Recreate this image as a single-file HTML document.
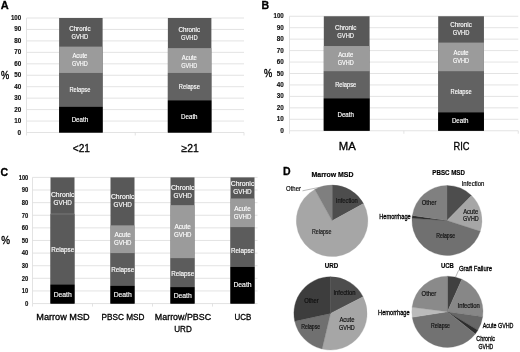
<!DOCTYPE html>
<html><head><meta charset="utf-8"><title>Figure</title>
<style>
html,body{margin:0;padding:0;background:#fff;}
body{width:520px;height:352px;overflow:hidden;}
svg{display:block;font-family:'Liberation Sans', sans-serif;filter:blur(0.5px);}
</style></head><body>
<svg width="520" height="352" viewBox="0 0 520 352">
<rect width="520" height="352" fill="#fff"/>
<text x="0.8" y="9" font-size="11" fill="#000" font-weight="bold" text-anchor="start" stroke="#000" stroke-width="0.3">A</text>
<line x1="26.5" y1="132.50" x2="244" y2="132.50" stroke="#dcdcdc" stroke-width="0.8"/>
<text x="21.2" y="134.5" font-size="6.8" fill="#111" font-weight="bold" text-anchor="end" textLength="3.6" lengthAdjust="spacingAndGlyphs" stroke="#111" stroke-width="0.15">0</text>
<line x1="26.5" y1="121.05" x2="244" y2="121.05" stroke="#dcdcdc" stroke-width="0.8"/>
<text x="21.2" y="123.05" font-size="6.8" fill="#111" font-weight="bold" text-anchor="end" textLength="7.0" lengthAdjust="spacingAndGlyphs" stroke="#111" stroke-width="0.15">10</text>
<line x1="26.5" y1="109.60" x2="244" y2="109.60" stroke="#dcdcdc" stroke-width="0.8"/>
<text x="21.2" y="111.6" font-size="6.8" fill="#111" font-weight="bold" text-anchor="end" textLength="7.0" lengthAdjust="spacingAndGlyphs" stroke="#111" stroke-width="0.15">20</text>
<line x1="26.5" y1="98.15" x2="244" y2="98.15" stroke="#dcdcdc" stroke-width="0.8"/>
<text x="21.2" y="100.15" font-size="6.8" fill="#111" font-weight="bold" text-anchor="end" textLength="7.0" lengthAdjust="spacingAndGlyphs" stroke="#111" stroke-width="0.15">30</text>
<line x1="26.5" y1="86.70" x2="244" y2="86.70" stroke="#dcdcdc" stroke-width="0.8"/>
<text x="21.2" y="88.7" font-size="6.8" fill="#111" font-weight="bold" text-anchor="end" textLength="7.0" lengthAdjust="spacingAndGlyphs" stroke="#111" stroke-width="0.15">40</text>
<line x1="26.5" y1="75.25" x2="244" y2="75.25" stroke="#dcdcdc" stroke-width="0.8"/>
<text x="21.2" y="77.25" font-size="6.8" fill="#111" font-weight="bold" text-anchor="end" textLength="7.0" lengthAdjust="spacingAndGlyphs" stroke="#111" stroke-width="0.15">50</text>
<line x1="26.5" y1="63.80" x2="244" y2="63.80" stroke="#dcdcdc" stroke-width="0.8"/>
<text x="21.2" y="65.8" font-size="6.8" fill="#111" font-weight="bold" text-anchor="end" textLength="7.0" lengthAdjust="spacingAndGlyphs" stroke="#111" stroke-width="0.15">60</text>
<line x1="26.5" y1="52.35" x2="244" y2="52.35" stroke="#dcdcdc" stroke-width="0.8"/>
<text x="21.2" y="54.349999999999994" font-size="6.8" fill="#111" font-weight="bold" text-anchor="end" textLength="7.0" lengthAdjust="spacingAndGlyphs" stroke="#111" stroke-width="0.15">70</text>
<line x1="26.5" y1="40.90" x2="244" y2="40.90" stroke="#dcdcdc" stroke-width="0.8"/>
<text x="21.2" y="42.900000000000006" font-size="6.8" fill="#111" font-weight="bold" text-anchor="end" textLength="7.0" lengthAdjust="spacingAndGlyphs" stroke="#111" stroke-width="0.15">80</text>
<line x1="26.5" y1="29.45" x2="244" y2="29.45" stroke="#dcdcdc" stroke-width="0.8"/>
<text x="21.2" y="31.450000000000003" font-size="6.8" fill="#111" font-weight="bold" text-anchor="end" textLength="7.0" lengthAdjust="spacingAndGlyphs" stroke="#111" stroke-width="0.15">90</text>
<line x1="26.5" y1="18.00" x2="244" y2="18.00" stroke="#dcdcdc" stroke-width="0.8"/>
<text x="21.2" y="20.0" font-size="6.8" fill="#111" font-weight="bold" text-anchor="end" textLength="10.3" lengthAdjust="spacingAndGlyphs" stroke="#111" stroke-width="0.15">100</text>
<line x1="26.5" y1="18" x2="26.5" y2="132.5" stroke="#dcdcdc" stroke-width="0.8"/>
<line x1="26.50" y1="132.5" x2="26.50" y2="135.5" stroke="#dcdcdc" stroke-width="0.8"/>
<line x1="135.25" y1="132.5" x2="135.25" y2="135.5" stroke="#dcdcdc" stroke-width="0.8"/>
<line x1="244.00" y1="132.5" x2="244.00" y2="135.5" stroke="#dcdcdc" stroke-width="0.8"/>
<text x="1" y="79" font-size="10.5" fill="#000" font-weight="normal" text-anchor="start" textLength="8.2" lengthAdjust="spacingAndGlyphs" stroke="#000" stroke-width="0.35">%</text>
<rect x="59.12" y="18.00" width="43.50" height="114.50" fill="#585858"/>
<rect x="59.12" y="46.62" width="43.50" height="85.88" fill="#9b9b9b"/>
<rect x="59.12" y="72.96" width="43.50" height="59.54" fill="#626262"/>
<rect x="59.12" y="106.85" width="43.50" height="25.65" fill="#000000"/>
<text x="79.875" y="122.176" font-size="7" fill="#fff" font-weight="normal" text-anchor="middle" textLength="16.5" lengthAdjust="spacingAndGlyphs" stroke="#fff" stroke-width="0.15">Death</text>
<text x="79.875" y="92.406" font-size="7" fill="#fff" font-weight="normal" text-anchor="middle" textLength="21.0" lengthAdjust="spacingAndGlyphs" stroke="#fff" stroke-width="0.15">Relapse</text>
<text x="79.875" y="58.292500000000004" font-size="7" fill="#fff" font-weight="normal" text-anchor="middle" textLength="15.0" lengthAdjust="spacingAndGlyphs" stroke="#fff" stroke-width="0.15">Acute</text>
<text x="79.875" y="66.2925" font-size="7" fill="#fff" font-weight="normal" text-anchor="middle" textLength="16.0" lengthAdjust="spacingAndGlyphs" stroke="#fff" stroke-width="0.15">GVHD</text>
<text x="79.875" y="30.8125" font-size="7" fill="#fff" font-weight="normal" text-anchor="middle" textLength="21.5" lengthAdjust="spacingAndGlyphs" stroke="#fff" stroke-width="0.15">Chronic</text>
<text x="79.875" y="38.8125" font-size="7" fill="#fff" font-weight="normal" text-anchor="middle" textLength="16.7" lengthAdjust="spacingAndGlyphs" stroke="#fff" stroke-width="0.15">GVHD</text>
<text x="81.375" y="151.5" font-size="10.5" fill="#000" font-weight="normal" text-anchor="middle" textLength="17.2" lengthAdjust="spacingAndGlyphs" stroke="#000" stroke-width="0.3">&lt;21</text>
<rect x="167.88" y="18.00" width="43.50" height="114.50" fill="#585858"/>
<rect x="167.88" y="48.11" width="43.50" height="84.39" fill="#9b9b9b"/>
<rect x="167.88" y="72.96" width="43.50" height="59.54" fill="#626262"/>
<rect x="167.88" y="100.44" width="43.50" height="32.06" fill="#000000"/>
<text x="189.325" y="118.97" font-size="7" fill="#fff" font-weight="normal" text-anchor="middle" textLength="16.5" lengthAdjust="spacingAndGlyphs" stroke="#fff" stroke-width="0.15">Death</text>
<text x="189.325" y="89.2" font-size="7" fill="#fff" font-weight="normal" text-anchor="middle" textLength="21.0" lengthAdjust="spacingAndGlyphs" stroke="#fff" stroke-width="0.15">Relapse</text>
<text x="189.325" y="59.83675" font-size="7" fill="#fff" font-weight="normal" text-anchor="middle" textLength="15.0" lengthAdjust="spacingAndGlyphs" stroke="#fff" stroke-width="0.15">Acute</text>
<text x="189.325" y="67.83675" font-size="7" fill="#fff" font-weight="normal" text-anchor="middle" textLength="16.0" lengthAdjust="spacingAndGlyphs" stroke="#fff" stroke-width="0.15">GVHD</text>
<text x="189.325" y="31.55675" font-size="7" fill="#fff" font-weight="normal" text-anchor="middle" textLength="21.5" lengthAdjust="spacingAndGlyphs" stroke="#fff" stroke-width="0.15">Chronic</text>
<text x="189.325" y="39.55675" font-size="7" fill="#fff" font-weight="normal" text-anchor="middle" textLength="16.7" lengthAdjust="spacingAndGlyphs" stroke="#fff" stroke-width="0.15">GVHD</text>
<text x="190.125" y="151.5" font-size="10.5" fill="#000" font-weight="normal" text-anchor="middle" textLength="17.2" lengthAdjust="spacingAndGlyphs" stroke="#000" stroke-width="0.3">≥21</text>
<text x="261.6" y="8.7" font-size="10.5" fill="#000" font-weight="bold" text-anchor="start" stroke="#000" stroke-width="0.3">B</text>
<line x1="289.5" y1="130.75" x2="518.25" y2="130.75" stroke="#dcdcdc" stroke-width="0.8"/>
<text x="283.8" y="132.75" font-size="6.8" fill="#111" font-weight="bold" text-anchor="end" textLength="3.6" lengthAdjust="spacingAndGlyphs" stroke="#111" stroke-width="0.15">0</text>
<line x1="289.5" y1="119.30" x2="518.25" y2="119.30" stroke="#dcdcdc" stroke-width="0.8"/>
<text x="283.8" y="121.3" font-size="6.8" fill="#111" font-weight="bold" text-anchor="end" textLength="7.0" lengthAdjust="spacingAndGlyphs" stroke="#111" stroke-width="0.15">10</text>
<line x1="289.5" y1="107.85" x2="518.25" y2="107.85" stroke="#dcdcdc" stroke-width="0.8"/>
<text x="283.8" y="109.85" font-size="6.8" fill="#111" font-weight="bold" text-anchor="end" textLength="7.0" lengthAdjust="spacingAndGlyphs" stroke="#111" stroke-width="0.15">20</text>
<line x1="289.5" y1="96.40" x2="518.25" y2="96.40" stroke="#dcdcdc" stroke-width="0.8"/>
<text x="283.8" y="98.4" font-size="6.8" fill="#111" font-weight="bold" text-anchor="end" textLength="7.0" lengthAdjust="spacingAndGlyphs" stroke="#111" stroke-width="0.15">30</text>
<line x1="289.5" y1="84.95" x2="518.25" y2="84.95" stroke="#dcdcdc" stroke-width="0.8"/>
<text x="283.8" y="86.95" font-size="6.8" fill="#111" font-weight="bold" text-anchor="end" textLength="7.0" lengthAdjust="spacingAndGlyphs" stroke="#111" stroke-width="0.15">40</text>
<line x1="289.5" y1="73.50" x2="518.25" y2="73.50" stroke="#dcdcdc" stroke-width="0.8"/>
<text x="283.8" y="75.5" font-size="6.8" fill="#111" font-weight="bold" text-anchor="end" textLength="7.0" lengthAdjust="spacingAndGlyphs" stroke="#111" stroke-width="0.15">50</text>
<line x1="289.5" y1="62.05" x2="518.25" y2="62.05" stroke="#dcdcdc" stroke-width="0.8"/>
<text x="283.8" y="64.05" font-size="6.8" fill="#111" font-weight="bold" text-anchor="end" textLength="7.0" lengthAdjust="spacingAndGlyphs" stroke="#111" stroke-width="0.15">60</text>
<line x1="289.5" y1="50.60" x2="518.25" y2="50.60" stroke="#dcdcdc" stroke-width="0.8"/>
<text x="283.8" y="52.599999999999994" font-size="6.8" fill="#111" font-weight="bold" text-anchor="end" textLength="7.0" lengthAdjust="spacingAndGlyphs" stroke="#111" stroke-width="0.15">70</text>
<line x1="289.5" y1="39.15" x2="518.25" y2="39.15" stroke="#dcdcdc" stroke-width="0.8"/>
<text x="283.8" y="41.150000000000006" font-size="6.8" fill="#111" font-weight="bold" text-anchor="end" textLength="7.0" lengthAdjust="spacingAndGlyphs" stroke="#111" stroke-width="0.15">80</text>
<line x1="289.5" y1="27.70" x2="518.25" y2="27.70" stroke="#dcdcdc" stroke-width="0.8"/>
<text x="283.8" y="29.700000000000003" font-size="6.8" fill="#111" font-weight="bold" text-anchor="end" textLength="7.0" lengthAdjust="spacingAndGlyphs" stroke="#111" stroke-width="0.15">90</text>
<line x1="289.5" y1="16.25" x2="518.25" y2="16.25" stroke="#dcdcdc" stroke-width="0.8"/>
<text x="283.8" y="18.25" font-size="6.8" fill="#111" font-weight="bold" text-anchor="end" textLength="10.3" lengthAdjust="spacingAndGlyphs" stroke="#111" stroke-width="0.15">100</text>
<line x1="289.5" y1="16.25" x2="289.5" y2="130.75" stroke="#dcdcdc" stroke-width="0.8"/>
<line x1="289.50" y1="130.75" x2="289.50" y2="133.75" stroke="#dcdcdc" stroke-width="0.8"/>
<line x1="403.88" y1="130.75" x2="403.88" y2="133.75" stroke="#dcdcdc" stroke-width="0.8"/>
<line x1="518.25" y1="130.75" x2="518.25" y2="133.75" stroke="#dcdcdc" stroke-width="0.8"/>
<text x="264" y="77.3" font-size="10.5" fill="#000" font-weight="normal" text-anchor="start" textLength="8.2" lengthAdjust="spacingAndGlyphs" stroke="#000" stroke-width="0.35">%</text>
<rect x="323.81" y="16.25" width="45.75" height="114.50" fill="#585858"/>
<rect x="323.81" y="46.02" width="45.75" height="84.73" fill="#9b9b9b"/>
<rect x="323.81" y="71.21" width="45.75" height="59.54" fill="#626262"/>
<rect x="323.81" y="98.46" width="45.75" height="32.29" fill="#000000"/>
<text x="345.6875" y="117.1055" font-size="7" fill="#fff" font-weight="normal" text-anchor="middle" textLength="16.5" lengthAdjust="spacingAndGlyphs" stroke="#fff" stroke-width="0.15">Death</text>
<text x="345.6875" y="86.5355" font-size="7" fill="#fff" font-weight="normal" text-anchor="middle" textLength="21.0" lengthAdjust="spacingAndGlyphs" stroke="#fff" stroke-width="0.15">Relapse</text>
<text x="345.6875" y="57.115" font-size="7" fill="#fff" font-weight="normal" text-anchor="middle" textLength="15.0" lengthAdjust="spacingAndGlyphs" stroke="#fff" stroke-width="0.15">Acute</text>
<text x="345.6875" y="65.11500000000001" font-size="7" fill="#fff" font-weight="normal" text-anchor="middle" textLength="16.0" lengthAdjust="spacingAndGlyphs" stroke="#fff" stroke-width="0.15">GVHD</text>
<text x="345.6875" y="29.634999999999998" font-size="7" fill="#fff" font-weight="normal" text-anchor="middle" textLength="21.5" lengthAdjust="spacingAndGlyphs" stroke="#fff" stroke-width="0.15">Chronic</text>
<text x="345.6875" y="37.635" font-size="7" fill="#fff" font-weight="normal" text-anchor="middle" textLength="16.7" lengthAdjust="spacingAndGlyphs" stroke="#fff" stroke-width="0.15">GVHD</text>
<text x="347.1875" y="150" font-size="10.5" fill="#000" font-weight="normal" text-anchor="middle" textLength="17" lengthAdjust="spacingAndGlyphs" stroke="#000" stroke-width="0.3">MA</text>
<rect x="438.19" y="16.25" width="45.75" height="114.50" fill="#585858"/>
<rect x="438.19" y="42.58" width="45.75" height="88.17" fill="#9b9b9b"/>
<rect x="438.19" y="71.21" width="45.75" height="59.54" fill="#626262"/>
<rect x="438.19" y="112.43" width="45.75" height="18.32" fill="#000000"/>
<text x="460.1625" y="123.09" font-size="7" fill="#fff" font-weight="normal" text-anchor="middle" textLength="16.5" lengthAdjust="spacingAndGlyphs" stroke="#fff" stroke-width="0.15">Death</text>
<text x="461.0625" y="94.32000000000001" font-size="7" fill="#fff" font-weight="normal" text-anchor="middle" textLength="21.0" lengthAdjust="spacingAndGlyphs" stroke="#fff" stroke-width="0.15">Relapse</text>
<text x="461.0625" y="55.097500000000004" font-size="7" fill="#fff" font-weight="normal" text-anchor="middle" textLength="15.0" lengthAdjust="spacingAndGlyphs" stroke="#fff" stroke-width="0.15">Acute</text>
<text x="461.0625" y="63.097500000000004" font-size="7" fill="#fff" font-weight="normal" text-anchor="middle" textLength="16.0" lengthAdjust="spacingAndGlyphs" stroke="#fff" stroke-width="0.15">GVHD</text>
<text x="461.0625" y="26.917499999999997" font-size="7" fill="#fff" font-weight="normal" text-anchor="middle" textLength="21.5" lengthAdjust="spacingAndGlyphs" stroke="#fff" stroke-width="0.15">Chronic</text>
<text x="461.0625" y="34.9175" font-size="7" fill="#fff" font-weight="normal" text-anchor="middle" textLength="16.7" lengthAdjust="spacingAndGlyphs" stroke="#fff" stroke-width="0.15">GVHD</text>
<text x="461.5625" y="150" font-size="10.5" fill="#000" font-weight="normal" text-anchor="middle" textLength="16" lengthAdjust="spacingAndGlyphs" stroke="#000" stroke-width="0.3">RIC</text>
<text x="0.6" y="176.1" font-size="10.5" fill="#000" font-weight="bold" text-anchor="start" stroke="#000" stroke-width="0.3">C</text>
<line x1="32.5" y1="303.55" x2="257.5" y2="303.55" stroke="#dcdcdc" stroke-width="0.8"/>
<text x="28.3" y="305.85" font-size="6.6" fill="#111" font-weight="bold" text-anchor="end" textLength="3.3480000000000003" lengthAdjust="spacingAndGlyphs" stroke="#111" stroke-width="0.15">0</text>
<line x1="32.5" y1="290.94" x2="257.5" y2="290.94" stroke="#dcdcdc" stroke-width="0.8"/>
<text x="28.3" y="293.235" font-size="6.6" fill="#111" font-weight="bold" text-anchor="end" textLength="6.510000000000001" lengthAdjust="spacingAndGlyphs" stroke="#111" stroke-width="0.15">10</text>
<line x1="32.5" y1="278.32" x2="257.5" y2="278.32" stroke="#dcdcdc" stroke-width="0.8"/>
<text x="28.3" y="280.62" font-size="6.6" fill="#111" font-weight="bold" text-anchor="end" textLength="6.510000000000001" lengthAdjust="spacingAndGlyphs" stroke="#111" stroke-width="0.15">20</text>
<line x1="32.5" y1="265.71" x2="257.5" y2="265.71" stroke="#dcdcdc" stroke-width="0.8"/>
<text x="28.3" y="268.00500000000005" font-size="6.6" fill="#111" font-weight="bold" text-anchor="end" textLength="6.510000000000001" lengthAdjust="spacingAndGlyphs" stroke="#111" stroke-width="0.15">30</text>
<line x1="32.5" y1="253.09" x2="257.5" y2="253.09" stroke="#dcdcdc" stroke-width="0.8"/>
<text x="28.3" y="255.39000000000001" font-size="6.6" fill="#111" font-weight="bold" text-anchor="end" textLength="6.510000000000001" lengthAdjust="spacingAndGlyphs" stroke="#111" stroke-width="0.15">40</text>
<line x1="32.5" y1="240.48" x2="257.5" y2="240.48" stroke="#dcdcdc" stroke-width="0.8"/>
<text x="28.3" y="242.77500000000003" font-size="6.6" fill="#111" font-weight="bold" text-anchor="end" textLength="6.510000000000001" lengthAdjust="spacingAndGlyphs" stroke="#111" stroke-width="0.15">50</text>
<line x1="32.5" y1="227.86" x2="257.5" y2="227.86" stroke="#dcdcdc" stroke-width="0.8"/>
<text x="28.3" y="230.16000000000003" font-size="6.6" fill="#111" font-weight="bold" text-anchor="end" textLength="6.510000000000001" lengthAdjust="spacingAndGlyphs" stroke="#111" stroke-width="0.15">60</text>
<line x1="32.5" y1="215.25" x2="257.5" y2="215.25" stroke="#dcdcdc" stroke-width="0.8"/>
<text x="28.3" y="217.54500000000002" font-size="6.6" fill="#111" font-weight="bold" text-anchor="end" textLength="6.510000000000001" lengthAdjust="spacingAndGlyphs" stroke="#111" stroke-width="0.15">70</text>
<line x1="32.5" y1="202.63" x2="257.5" y2="202.63" stroke="#dcdcdc" stroke-width="0.8"/>
<text x="28.3" y="204.93" font-size="6.6" fill="#111" font-weight="bold" text-anchor="end" textLength="6.510000000000001" lengthAdjust="spacingAndGlyphs" stroke="#111" stroke-width="0.15">80</text>
<line x1="32.5" y1="190.01" x2="257.5" y2="190.01" stroke="#dcdcdc" stroke-width="0.8"/>
<text x="28.3" y="192.315" font-size="6.6" fill="#111" font-weight="bold" text-anchor="end" textLength="6.510000000000001" lengthAdjust="spacingAndGlyphs" stroke="#111" stroke-width="0.15">90</text>
<line x1="32.5" y1="177.40" x2="257.5" y2="177.40" stroke="#dcdcdc" stroke-width="0.8"/>
<text x="28.3" y="179.70000000000002" font-size="6.6" fill="#111" font-weight="bold" text-anchor="end" textLength="9.579" lengthAdjust="spacingAndGlyphs" stroke="#111" stroke-width="0.15">100</text>
<line x1="32.5" y1="177.4" x2="32.5" y2="303.55" stroke="#dcdcdc" stroke-width="0.8"/>
<line x1="32.50" y1="303.55" x2="32.50" y2="306.55" stroke="#dcdcdc" stroke-width="0.8"/>
<line x1="92.50" y1="303.55" x2="92.50" y2="306.55" stroke="#dcdcdc" stroke-width="0.8"/>
<line x1="152.50" y1="303.55" x2="152.50" y2="306.55" stroke="#dcdcdc" stroke-width="0.8"/>
<line x1="212.50" y1="303.55" x2="212.50" y2="306.55" stroke="#dcdcdc" stroke-width="0.8"/>
<text x="1.3" y="244.4" font-size="11.5" fill="#000" font-weight="normal" text-anchor="start" textLength="8.8" lengthAdjust="spacingAndGlyphs" stroke="#000" stroke-width="0.35">%</text>
<rect x="50.50" y="177.40" width="24.00" height="126.15" fill="#585858"/>
<rect x="50.50" y="213.98" width="24.00" height="89.57" fill="#5a5a5a"/>
<rect x="50.50" y="284.63" width="24.00" height="18.92" fill="#000000"/>
<text x="62.7" y="297.38875" font-size="7.2" fill="#fff" font-weight="normal" text-anchor="middle" textLength="18.150000000000002" lengthAdjust="spacingAndGlyphs" stroke="#fff" stroke-width="0.15">Death</text>
<text x="62.7" y="251.8055" font-size="7.2" fill="#fff" font-weight="normal" text-anchor="middle" textLength="23.1" lengthAdjust="spacingAndGlyphs" stroke="#fff" stroke-width="0.15">Relapse</text>
<line x1="50.50" y1="213.98" x2="74.50" y2="213.98" stroke="#9a9a9a" stroke-width="0.5"/>
<text x="62.7" y="196.99175000000002" font-size="7.2" fill="#fff" font-weight="normal" text-anchor="middle" textLength="23.650000000000002" lengthAdjust="spacingAndGlyphs" stroke="#fff" stroke-width="0.15">Chronic</text>
<text x="62.7" y="204.99175000000002" font-size="7.2" fill="#fff" font-weight="normal" text-anchor="middle" textLength="18.37" lengthAdjust="spacingAndGlyphs" stroke="#fff" stroke-width="0.15">GVHD</text>
<text x="63.0" y="320.2" font-size="9" fill="#000" font-weight="normal" text-anchor="middle" textLength="53.4" lengthAdjust="spacingAndGlyphs" stroke="#000" stroke-width="0.3">Marrow MSD</text>
<rect x="110.50" y="177.40" width="24.00" height="126.15" fill="#585858"/>
<rect x="110.50" y="225.34" width="24.00" height="78.21" fill="#9b9b9b"/>
<rect x="110.50" y="253.09" width="24.00" height="50.46" fill="#5c5c5c"/>
<rect x="110.50" y="285.89" width="24.00" height="17.66" fill="#000000"/>
<text x="122.7" y="297.21950000000004" font-size="7.2" fill="#fff" font-weight="normal" text-anchor="middle" textLength="18.150000000000002" lengthAdjust="spacingAndGlyphs" stroke="#fff" stroke-width="0.15">Death</text>
<text x="122.7" y="271.9895" font-size="7.2" fill="#fff" font-weight="normal" text-anchor="middle" textLength="23.1" lengthAdjust="spacingAndGlyphs" stroke="#fff" stroke-width="0.15">Relapse</text>
<text x="122.7" y="237.11350000000002" font-size="7.2" fill="#fff" font-weight="normal" text-anchor="middle" textLength="16.5" lengthAdjust="spacingAndGlyphs" stroke="#fff" stroke-width="0.15">Acute</text>
<text x="122.7" y="245.11350000000002" font-size="7.2" fill="#fff" font-weight="normal" text-anchor="middle" textLength="17.6" lengthAdjust="spacingAndGlyphs" stroke="#fff" stroke-width="0.15">GVHD</text>
<text x="122.7" y="199.36849999999998" font-size="7.2" fill="#fff" font-weight="normal" text-anchor="middle" textLength="23.650000000000002" lengthAdjust="spacingAndGlyphs" stroke="#fff" stroke-width="0.15">Chronic</text>
<text x="122.7" y="207.36849999999998" font-size="7.2" fill="#fff" font-weight="normal" text-anchor="middle" textLength="18.37" lengthAdjust="spacingAndGlyphs" stroke="#fff" stroke-width="0.15">GVHD</text>
<text x="123.0" y="320.2" font-size="9" fill="#000" font-weight="normal" text-anchor="middle" textLength="43" lengthAdjust="spacingAndGlyphs" stroke="#000" stroke-width="0.3">PBSC MSD</text>
<rect x="170.50" y="177.40" width="24.00" height="126.15" fill="#585858"/>
<rect x="170.50" y="205.15" width="24.00" height="98.40" fill="#9b9b9b"/>
<rect x="170.50" y="258.14" width="24.00" height="45.41" fill="#5c5c5c"/>
<rect x="170.50" y="287.15" width="24.00" height="16.40" fill="#000000"/>
<text x="182.7" y="297.85025" font-size="7.2" fill="#fff" font-weight="normal" text-anchor="middle" textLength="18.150000000000002" lengthAdjust="spacingAndGlyphs" stroke="#fff" stroke-width="0.15">Death</text>
<text x="182.7" y="275.54325" font-size="7.2" fill="#fff" font-weight="normal" text-anchor="middle" textLength="23.1" lengthAdjust="spacingAndGlyphs" stroke="#fff" stroke-width="0.15">Relapse</text>
<text x="182.7" y="229.24450000000002" font-size="7.2" fill="#fff" font-weight="normal" text-anchor="middle" textLength="16.5" lengthAdjust="spacingAndGlyphs" stroke="#fff" stroke-width="0.15">Acute</text>
<text x="182.7" y="237.24450000000002" font-size="7.2" fill="#fff" font-weight="normal" text-anchor="middle" textLength="17.6" lengthAdjust="spacingAndGlyphs" stroke="#fff" stroke-width="0.15">GVHD</text>
<text x="182.7" y="190.0765" font-size="7.2" fill="#fff" font-weight="normal" text-anchor="middle" textLength="23.650000000000002" lengthAdjust="spacingAndGlyphs" stroke="#fff" stroke-width="0.15">Chronic</text>
<text x="182.7" y="198.0765" font-size="7.2" fill="#fff" font-weight="normal" text-anchor="middle" textLength="18.37" lengthAdjust="spacingAndGlyphs" stroke="#fff" stroke-width="0.15">GVHD</text>
<text x="183.0" y="320.2" font-size="9" fill="#000" font-weight="normal" text-anchor="middle" textLength="56.3" lengthAdjust="spacingAndGlyphs" stroke="#000" stroke-width="0.3">Marrow/PBSC</text>
<text x="183.0" y="332.0" font-size="9" fill="#000" font-weight="normal" text-anchor="middle" textLength="17.5" lengthAdjust="spacingAndGlyphs" stroke="#000" stroke-width="0.3">URD</text>
<rect x="230.50" y="177.40" width="24.00" height="126.15" fill="#585858"/>
<rect x="230.50" y="198.47" width="24.00" height="105.08" fill="#9b9b9b"/>
<rect x="230.50" y="227.10" width="24.00" height="76.45" fill="#5c5c5c"/>
<rect x="230.50" y="266.97" width="24.00" height="36.58" fill="#000000"/>
<text x="242.5" y="286.75825" font-size="7.2" fill="#fff" font-weight="normal" text-anchor="middle" textLength="18.150000000000002" lengthAdjust="spacingAndGlyphs" stroke="#fff" stroke-width="0.15">Death</text>
<text x="242.5" y="252.53480000000002" font-size="7.2" fill="#fff" font-weight="normal" text-anchor="middle" textLength="23.1" lengthAdjust="spacingAndGlyphs" stroke="#fff" stroke-width="0.15">Relapse</text>
<text x="242.5" y="211.485075" font-size="7.2" fill="#fff" font-weight="normal" text-anchor="middle" textLength="16.5" lengthAdjust="spacingAndGlyphs" stroke="#fff" stroke-width="0.15">Acute</text>
<text x="242.5" y="219.485075" font-size="7.2" fill="#fff" font-weight="normal" text-anchor="middle" textLength="17.6" lengthAdjust="spacingAndGlyphs" stroke="#fff" stroke-width="0.15">GVHD</text>
<text x="242.5" y="186.43352500000003" font-size="7.2" fill="#fff" font-weight="normal" text-anchor="middle" textLength="23.650000000000002" lengthAdjust="spacingAndGlyphs" stroke="#fff" stroke-width="0.15">Chronic</text>
<text x="242.5" y="194.43352500000003" font-size="7.2" fill="#fff" font-weight="normal" text-anchor="middle" textLength="18.37" lengthAdjust="spacingAndGlyphs" stroke="#fff" stroke-width="0.15">GVHD</text>
<text x="243.0" y="320.2" font-size="9" fill="#000" font-weight="normal" text-anchor="middle" textLength="16.8" lengthAdjust="spacingAndGlyphs" stroke="#000" stroke-width="0.3">UCB</text>
<text x="282.9" y="175.3" font-size="10.5" fill="#000" font-weight="bold" text-anchor="start" stroke="#000" stroke-width="0.3">D</text>
<path d="M332.1,220.8 L332.10,185.00 A35.8,35.8 0 0 1 363.50,203.61 Z" fill="#4d4d4d" stroke="#4d4d4d" stroke-width="0.3"/>
<path d="M332.1,220.8 L363.50,203.61 A35.8,35.8 0 1 1 314.74,189.49 Z" fill="#a6a6a6" stroke="#a6a6a6" stroke-width="0.3"/>
<path d="M332.1,220.8 L314.74,189.49 A35.8,35.8 0 0 1 332.10,185.00 Z" fill="#7f7f7f" stroke="#7f7f7f" stroke-width="0.3"/>
<text x="332.5" y="176.8" font-size="7.5" fill="#000" font-weight="bold" text-anchor="middle" textLength="42" lengthAdjust="spacingAndGlyphs" stroke="#000" stroke-width="0.2">Marrow MSD</text>
<text x="335.8" y="202.5" font-size="7" fill="#1a1a1a" font-weight="normal" text-anchor="start" textLength="22" lengthAdjust="spacingAndGlyphs" stroke="#111" stroke-width="0.2">Infection</text>
<text x="311.9" y="233.5" font-size="7" fill="#222" font-weight="normal" text-anchor="start" textLength="19.6" lengthAdjust="spacingAndGlyphs" stroke="#111" stroke-width="0.2">Relapse</text>
<text x="286" y="191" font-size="7" fill="#000" font-weight="normal" text-anchor="start" textLength="15" lengthAdjust="spacingAndGlyphs" stroke="#111" stroke-width="0.2">Other</text>
<polyline points="302.5,190.8 321.5,186.9" fill="none" stroke="#8a8a8a" stroke-width="0.6"/>
<path d="M447.0,220.5 L447.00,185.50 A35,35 0 0 1 471.53,195.54 Z" fill="#4d4d4d" stroke="#4d4d4d" stroke-width="0.3"/>
<path d="M447.0,220.5 L471.53,195.54 A35,35 0 0 1 480.29,231.32 Z" fill="#a6a6a6" stroke="#a6a6a6" stroke-width="0.3"/>
<path d="M447.0,220.5 L480.29,231.32 A35,35 0 0 1 412.08,218.18 Z" fill="#707070" stroke="#707070" stroke-width="0.3"/>
<path d="M447.0,220.5 L412.08,218.18 A35,35 0 0 1 412.37,215.45 Z" fill="#2e2e2e" stroke="#2e2e2e" stroke-width="0.3"/>
<path d="M447.0,220.5 L412.37,215.45 A35,35 0 0 1 447.00,185.50 Z" fill="#808080" stroke="#808080" stroke-width="0.3"/>
<text x="448.6" y="175.2" font-size="7.5" fill="#000" font-weight="bold" text-anchor="middle" textLength="32.5" lengthAdjust="spacingAndGlyphs" stroke="#000" stroke-width="0.2">PBSC MSD</text>
<text x="461.7" y="186" font-size="7" fill="#000" font-weight="normal" text-anchor="start" textLength="22.7" lengthAdjust="spacingAndGlyphs" stroke="#111" stroke-width="0.2">Infection</text>
<text x="470.7" y="213.6" font-size="7" fill="#111" font-weight="normal" text-anchor="middle" textLength="15" lengthAdjust="spacingAndGlyphs" stroke="#111" stroke-width="0.2">Acute</text>
<text x="470.9" y="221.4" font-size="7" fill="#111" font-weight="normal" text-anchor="middle" textLength="15.6" lengthAdjust="spacingAndGlyphs" stroke="#111" stroke-width="0.2">GVHD</text>
<text x="421.8" y="205" font-size="7" fill="#111" font-weight="normal" text-anchor="start" textLength="14.6" lengthAdjust="spacingAndGlyphs" stroke="#111" stroke-width="0.2">Other</text>
<text x="379.2" y="218.8" font-size="7" fill="#000" font-weight="normal" text-anchor="start" textLength="31.5" lengthAdjust="spacingAndGlyphs" stroke="#000" stroke-width="0.3">Hemorrhage</text>
<text x="436.2" y="237.6" font-size="7" fill="#111" font-weight="normal" text-anchor="start" textLength="19" lengthAdjust="spacingAndGlyphs" stroke="#111" stroke-width="0.2">Relapse</text>
<path d="M330.5,313.4 L330.50,276.80 A36.6,36.6 0 0 1 363.05,296.67 Z" fill="#4d4d4d" stroke="#4d4d4d" stroke-width="0.3"/>
<path d="M330.5,313.4 L363.05,296.67 A36.6,36.6 0 0 1 322.08,349.02 Z" fill="#a6a6a6" stroke="#a6a6a6" stroke-width="0.3"/>
<path d="M330.5,313.4 L322.08,349.02 A36.6,36.6 0 0 1 294.73,321.13 Z" fill="#707070" stroke="#707070" stroke-width="0.3"/>
<path d="M330.5,313.4 L294.73,321.13 A36.6,36.6 0 0 1 330.50,276.80 Z" fill="#3d3d3d" stroke="#3d3d3d" stroke-width="0.3"/>
<text x="331.5" y="268.2" font-size="7.5" fill="#000" font-weight="bold" text-anchor="middle" textLength="13.5" lengthAdjust="spacingAndGlyphs" stroke="#000" stroke-width="0.2">URD</text>
<text x="333.4" y="295.2" font-size="7" fill="#111" font-weight="normal" text-anchor="start" textLength="22.2" lengthAdjust="spacingAndGlyphs" stroke="#111" stroke-width="0.2">Infection</text>
<text x="346.9" y="321.8" font-size="7" fill="#111" font-weight="normal" text-anchor="middle" textLength="15" lengthAdjust="spacingAndGlyphs" stroke="#111" stroke-width="0.2">Acute</text>
<text x="346.9" y="330.2" font-size="7" fill="#111" font-weight="normal" text-anchor="middle" textLength="15.6" lengthAdjust="spacingAndGlyphs" stroke="#111" stroke-width="0.2">GVHD</text>
<text x="301.2" y="328.8" font-size="7" fill="#111" font-weight="normal" text-anchor="start" textLength="19" lengthAdjust="spacingAndGlyphs" stroke="#111" stroke-width="0.2">Relapse</text>
<text x="304.2" y="303" font-size="7" fill="#111" font-weight="normal" text-anchor="start" textLength="14.6" lengthAdjust="spacingAndGlyphs" stroke="#111" stroke-width="0.2">Other</text>
<text x="378.1" y="315.2" font-size="7" fill="#000" font-weight="normal" text-anchor="start" textLength="31.5" lengthAdjust="spacingAndGlyphs" stroke="#000" stroke-width="0.3">Hemorrhage</text>
<path d="M447.4,311.8 L447.40,276.20 A35.6,35.6 0 0 1 461.88,279.28 Z" fill="#404040" stroke="#404040" stroke-width="0.3"/>
<path d="M447.4,311.8 L461.88,279.28 A35.6,35.6 0 0 1 482.65,316.75 Z" fill="#878787" stroke="#878787" stroke-width="0.3"/>
<path d="M447.4,311.8 L482.65,316.75 A35.6,35.6 0 0 1 477.85,330.24 Z" fill="#676767" stroke="#676767" stroke-width="0.3"/>
<path d="M447.4,311.8 L477.85,330.24 A35.6,35.6 0 0 1 475.30,333.91 Z" fill="#2e2e2e" stroke="#2e2e2e" stroke-width="0.3"/>
<path d="M447.4,311.8 L475.30,333.91 A35.6,35.6 0 0 1 412.24,317.37 Z" fill="#727272" stroke="#727272" stroke-width="0.3"/>
<path d="M447.4,311.8 L412.24,317.37 A35.6,35.6 0 0 1 412.09,307.28 Z" fill="#bbbbbb" stroke="#bbbbbb" stroke-width="0.3"/>
<path d="M447.4,311.8 L412.09,307.28 A35.6,35.6 0 0 1 447.40,276.20 Z" fill="#8a8a8a" stroke="#8a8a8a" stroke-width="0.3"/>
<text x="447.4" y="268.1" font-size="7.5" fill="#000" font-weight="bold" text-anchor="middle" textLength="12.8" lengthAdjust="spacingAndGlyphs" stroke="#000" stroke-width="0.2">UCB</text>
<text x="459" y="270.6" font-size="7" fill="#000" font-weight="normal" text-anchor="start" textLength="33" lengthAdjust="spacingAndGlyphs" stroke="#000" stroke-width="0.3">Graft Failure</text>
<line x1="458.6" y1="270.3" x2="455.6" y2="277" stroke="#8a8a8a" stroke-width="0.6"/>
<text x="457.5" y="307.5" font-size="7" fill="#111" font-weight="normal" text-anchor="start" textLength="22.2" lengthAdjust="spacingAndGlyphs" stroke="#111" stroke-width="0.2">Infection</text>
<text x="421.6" y="295.6" font-size="7" fill="#111" font-weight="normal" text-anchor="start" textLength="14.6" lengthAdjust="spacingAndGlyphs" stroke="#111" stroke-width="0.2">Other</text>
<text x="431" y="328.2" font-size="7" fill="#111" font-weight="normal" text-anchor="start" textLength="19" lengthAdjust="spacingAndGlyphs" stroke="#111" stroke-width="0.2">Relapse</text>
<text x="482.8" y="328.1" font-size="7" fill="#000" font-weight="normal" text-anchor="start" textLength="30.7" lengthAdjust="spacingAndGlyphs" stroke="#000" stroke-width="0.3">Acute GVHD</text>
<text x="476.3" y="341.3" font-size="7" fill="#000" font-weight="normal" text-anchor="start" textLength="18.8" lengthAdjust="spacingAndGlyphs" stroke="#000" stroke-width="0.3">Chronic</text>
<text x="478.5" y="348.9" font-size="7" fill="#000" font-weight="normal" text-anchor="start" textLength="14.8" lengthAdjust="spacingAndGlyphs" stroke="#000" stroke-width="0.3">GVHD</text>
</svg>
</body></html>
